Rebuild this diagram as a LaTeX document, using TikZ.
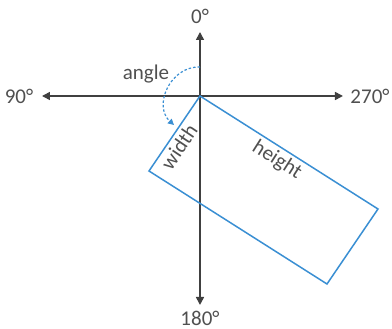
\documentclass[tikz,border=0pt]{standalone}
\usepackage{fontspec}
\setmainfont{Carlito}
\usetikzlibrary{arrows.meta}
\definecolor{axisgray}{HTML}{404040}
\definecolor{boxblue}{HTML}{3A8FD3}
\definecolor{labelgray}{HTML}{505050}
\tikzset{
  axisline/.style={draw=axisgray, line width=1.6pt, {Triangle[length=8pt,width=8pt]}-{Triangle[length=8pt,width=8pt]}},
  lbl/.style={text=labelgray, font=\fontsize{21}{23}\selectfont, inner sep=0pt},
  boxline/.style={draw=boxblue, line width=1.5pt, line join=miter},
  turn/.style={draw=boxblue, line width=1.2pt, dash pattern=on 2.5pt off 2pt, -{Triangle[length=6pt,width=6pt]}},
}
\begin{document}
\begin{tikzpicture}[x=1pt,y=1pt]
	\useasboundingbox (-200,96) rectangle (192,-233);
	% axes
	\coordinate (top) at (0,64);
	\coordinate (bot) at (0,-209);
	\coordinate (left) at (-158,0);
	\coordinate (right) at (143,0);
	\draw[axisline] (bot) -- (top);
	\draw[axisline] (left) -- (right);
	\node[lbl] (zero) at (0,80) {0°};
	\node[lbl] (ninety) at (-181,0) {90°};
	\node[lbl] (twoseventy) at (170,0) {270°};
	\node[lbl] (oneeighty) at (0,-222) {180°};
	% rotated box
	\coordinate (o) at (0,0);
	\coordinate (w) at (-51,-75);
	\coordinate (b) at (127,-188);
	\coordinate (h) at (178,-113);
	\draw[boxline] (o) -- (w) -- (b) -- (h) -- cycle;
	\node[lbl, rotate=56] (width) at (-21,-51) {width};
	\node[lbl, rotate=-32.4] (height) at (77,-64) {height};
	% angle
	\coordinate (a0) at (0,29);
	\coordinate (a1) at (-26,-29);
	\draw[turn] (a0) .. controls (-30,30) and (-47,-10) .. (a1);
	\node[lbl] (angle) at (-54,22) {angle};
\end{tikzpicture}
\end{document}
